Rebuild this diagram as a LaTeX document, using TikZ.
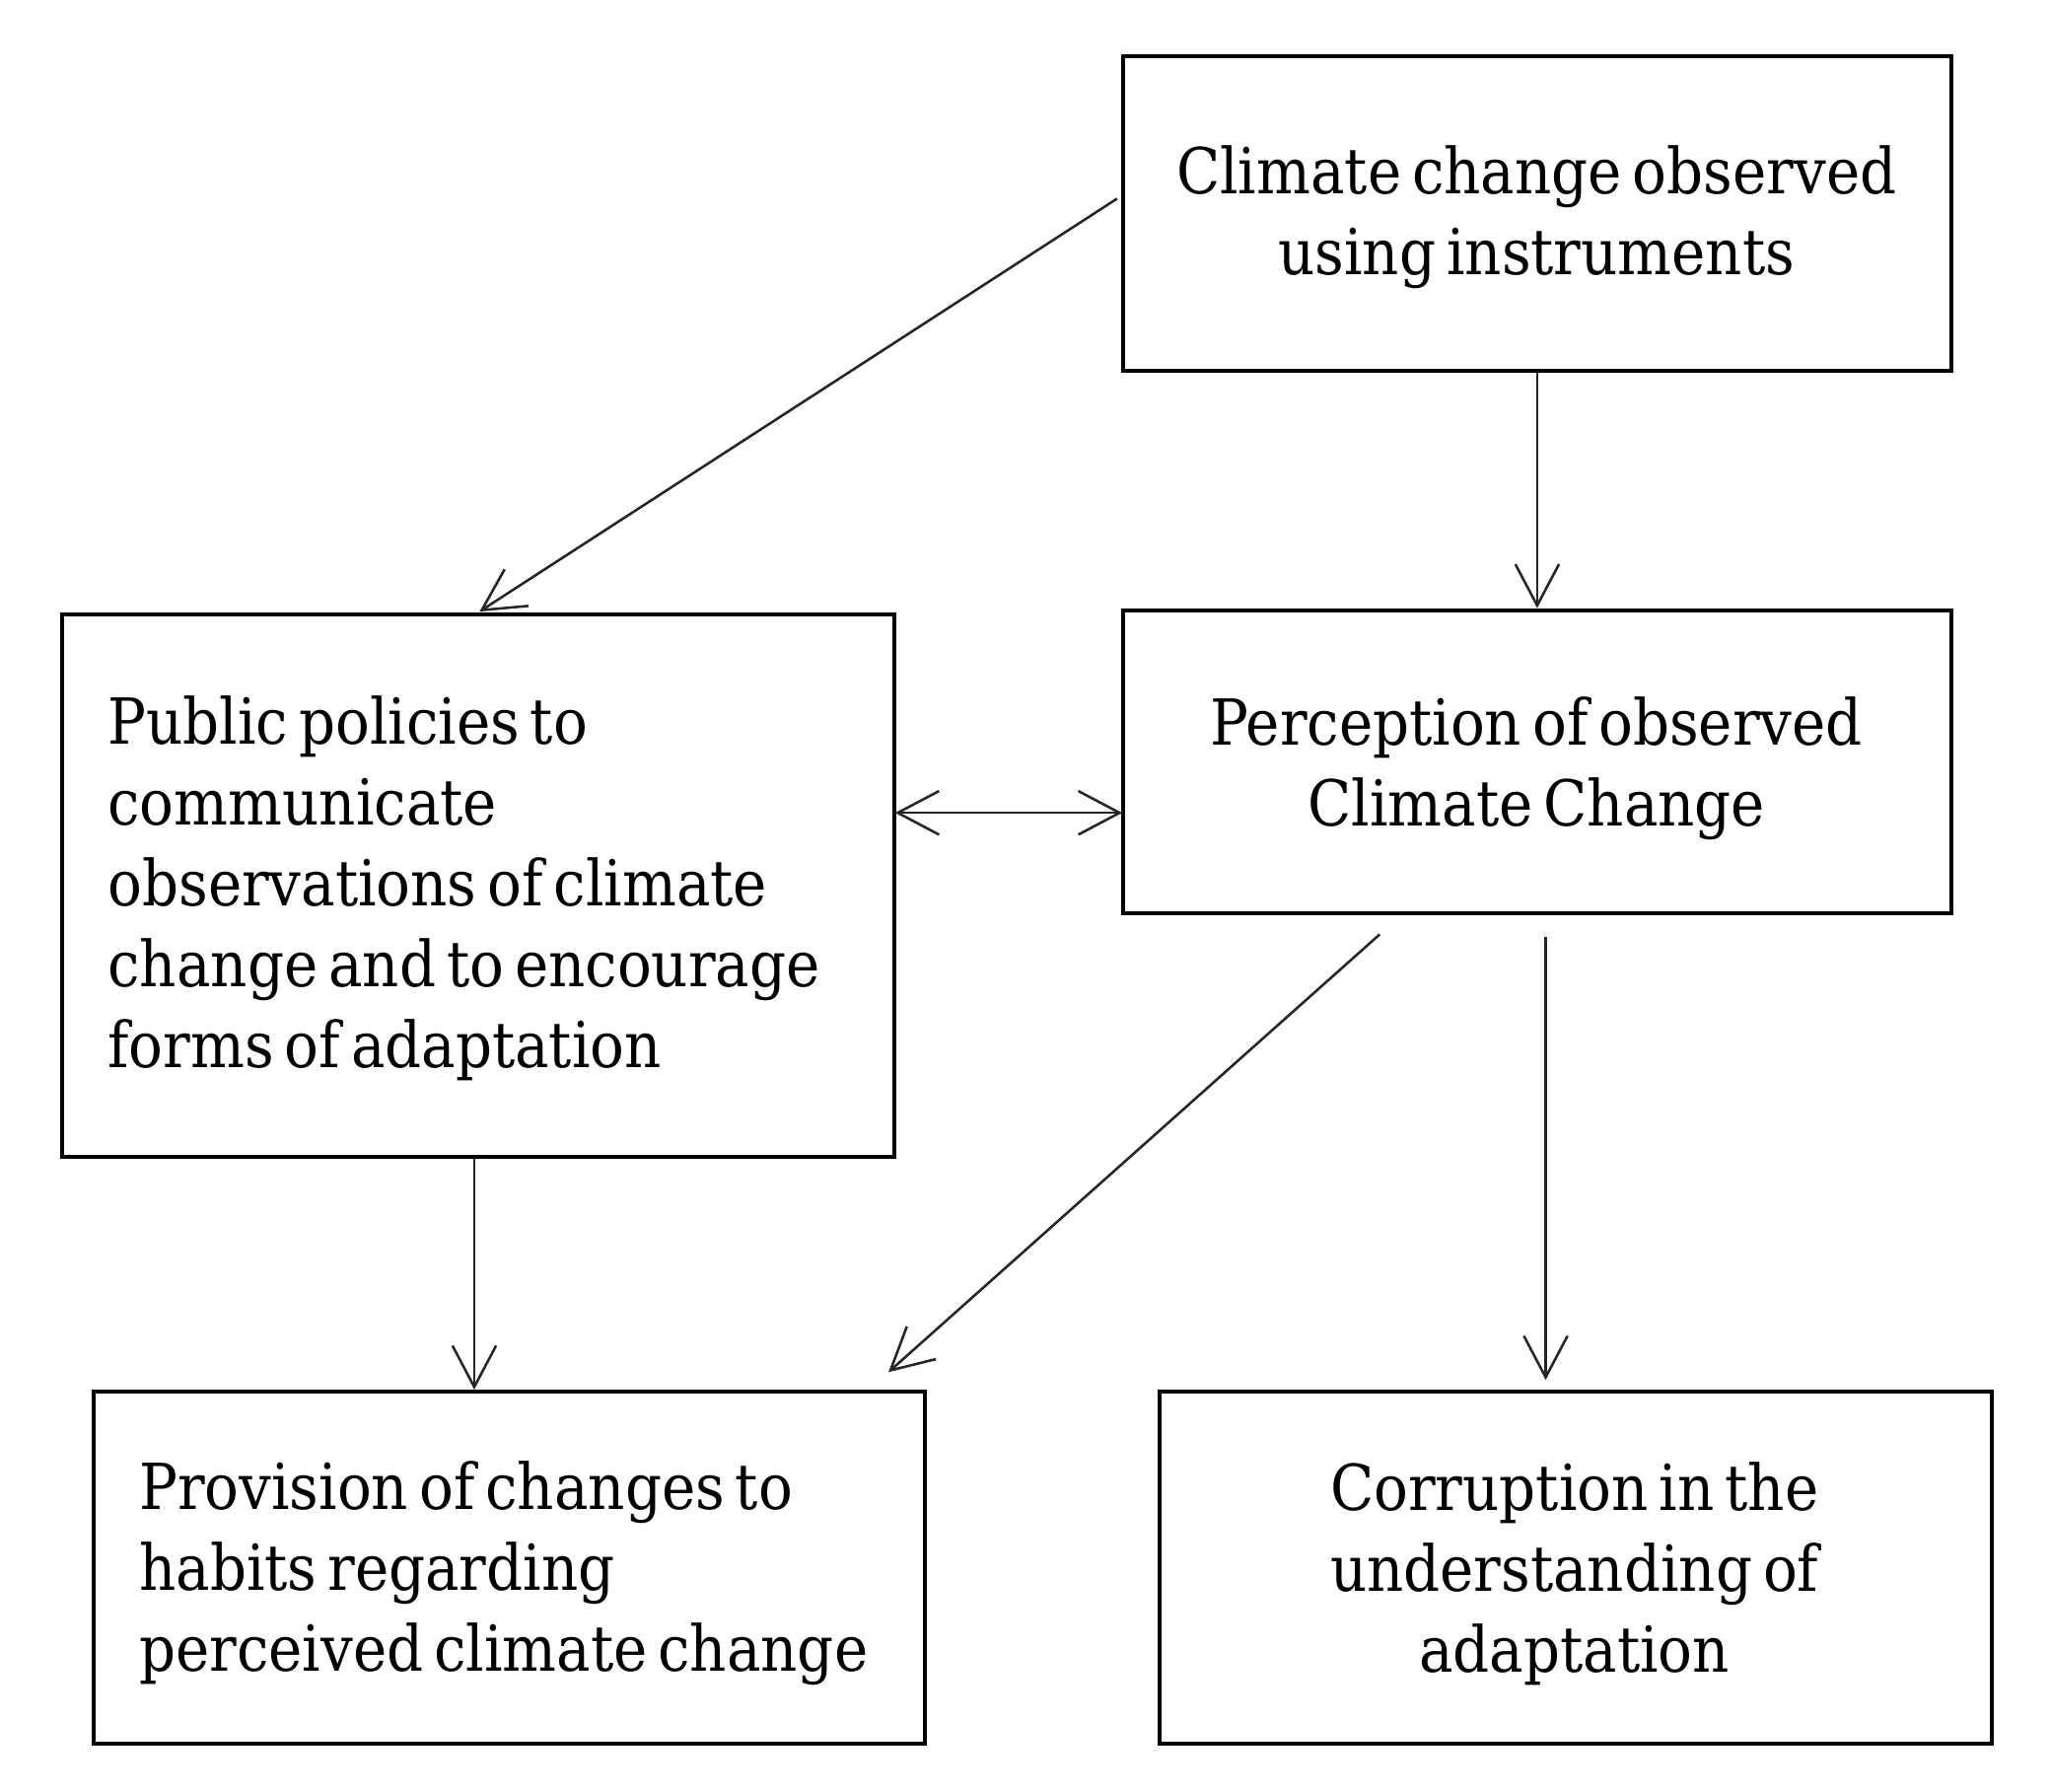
\documentclass[tikz,border=0pt]{standalone}
\usepackage{fontspec}
\setmainfont[WordSpace=0.6]{DejaVu Serif Condensed}
\usetikzlibrary{arrows.meta}
\begin{document}
\begin{tikzpicture}[x=0.01cm,y=-0.01cm,
  box/.style={draw=black, line width=0.85pt, rectangle, inner sep=0pt},
  txt/.style={inner sep=0pt, font=\fontsize{13.8pt}{17.6pt}\selectfont},
  ctxt/.style={txt, align=center},
  ltxt/.style={txt, align=left, anchor=west},
  arr/.style={draw=black!85, line width=0.55pt, -{Straight Barb[length=9pt,width=9.5pt]}},
  darr/.style={draw=black!85, line width=0.55pt, {Straight Barb[length=9pt,width=9.5pt]}-{Straight Barb[length=9pt,width=9.5pt]}}
]
\useasboundingbox (0,0) rectangle (1569,1371);
\fill[white] (0,0) rectangle (1569,1371);

\node[box, minimum width=6.33cm, minimum height=2.41cm] (A) at (1176.5,163.5) {};
\node[ctxt] (At) at (1176,166) {Climate change observed\\using instruments};
\node[box, minimum width=6.33cm, minimum height=2.32cm] (B) at (1176.5,583) {};
\node[ctxt] (Bt) at (1176,588) {Perception of observed\\Climate Change};
\node[box, minimum width=6.36cm, minimum height=4.15cm] (C) at (366,677.5) {};
\node[ltxt] (Ct) at (82,680) {Public policies to\\communicate\\observations of climate\\change and to encourage\\forms of adaptation};
\node[box, minimum width=6.36cm, minimum height=2.69cm] (D) at (390,1199.5) {};
\node[ltxt] (Dt) at (106,1204) {Provision of changes to\\habits regarding\\perceived climate change};
\node[box, minimum width=6.36cm, minimum height=2.69cm] (E) at (1206,1199.5) {};
\node[ctxt] (Et) at (1205,1204) {Corruption in the\\understanding of\\adaptation};

\coordinate (a1) at (855,152);
\coordinate (c1) at (367,468);
\coordinate (b1) at (1056,715);
\coordinate (d1) at (680,1050);
\coordinate (b2) at (1183,717);
\coordinate (e1) at (1183,1056);
\coordinate (cb1) at (685,622);
\coordinate (cb2) at (859,622);

\draw[arr] (a1) -- (c1);
\draw[arr] (A.south) -- (B.north);
\draw[darr] (cb1) -- (cb2);
\draw[arr] (C.south -| 363,0) -- (D.north -| 363,0);
\draw[arr] (b1) -- (d1);
\draw[arr] (b2) -- (e1);
\end{tikzpicture}
\end{document}
